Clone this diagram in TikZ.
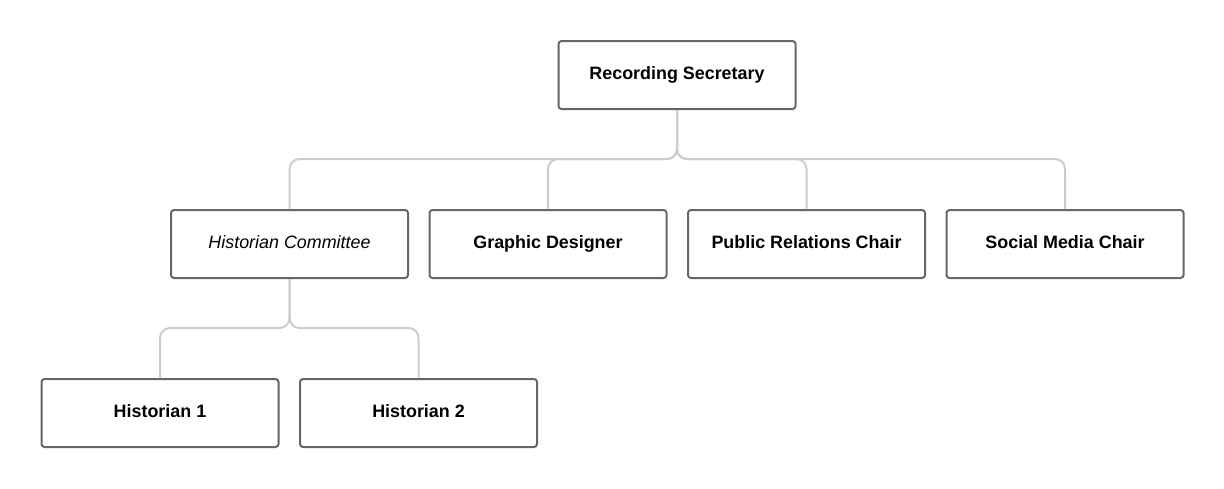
\documentclass[tikz,border=0pt]{standalone}
\usepackage{fontspec}
\setmainfont{Liberation Sans}
\usetikzlibrary{calc}
\definecolor{boxgray}{RGB}{102, 102, 102}
\definecolor{linkgray}{RGB}{204, 204, 204}
\begin{document}
\begin{tikzpicture}[x=1pt, y=-1pt,
    role/.style={draw=boxgray, fill=white, line width=2pt, rounded corners=3pt, minimum width=237pt, minimum height=68pt, text height=12.9pt, text depth=3.8pt, font=\fontsize{17.9}{20}\selectfont\bfseries},
    link/.style={draw=linkgray, line width=2pt, rounded corners=10pt}]
            \useasboundingbox                                             (0, 0) rectangle (1224, 488);
            \node[role]                                  (sec)  at ( 677.0,  75.0) {Recording Secretary};
            \node[role, font=\fontsize{17.9}{20}\selectfont\itshape] (hc) at ( 289.5, 244.0) {Historian Committee};
            \node[role]                                  (gd)   at ( 548.0, 244.0) {Graphic Designer};
            \node[role]                                  (pr)   at ( 806.5, 244.0) {Public Relations Chair};
            \node[role]                                  (sm)   at (1065.0, 244.0) {Social Media Chair};
            \node[role]                                  (hone) at ( 160.0, 413.0) {Historian 1};
            \node[role]                                  (htwo) at ( 418.5, 413.0) {Historian 2};
            \coordinate                                  (secfork) at ($(sec.south)+(0,49)$);
            \coordinate                                  (hcfork)  at ($(hc.south)+(0,49)$);
            \foreach \kid in {hc, gd, pr, sm}
              \draw[link] (sec.south) -- (secfork) -| (\kid.north);
            \foreach \kid in {hone, htwo}
              \draw[link] (hc.south) -- (hcfork) -| (\kid.north);
\end{tikzpicture}
\end{document}
